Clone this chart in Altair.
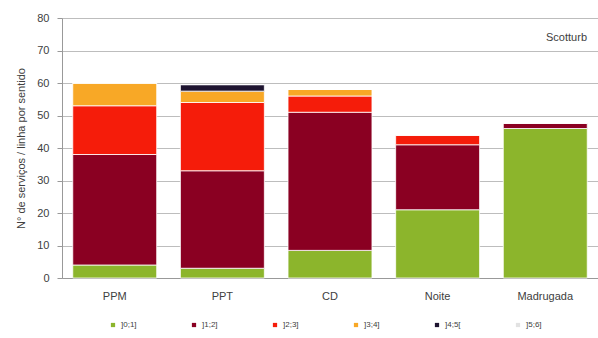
import altair as alt
import pandas as pd

categories = ["PPM", "PPT", "CD", "Noite", "Madrugada"]
series = ["]0;1]", "]1;2]", "]2;3]", "]3;4]", "]4;5[", "]5;6]"]
colors = ["#8cb52c", "#8a0022", "#f51c0a", "#f8a826", "#1e1430", "#e2e2e2"]

v01 = [4, 3, 8.5, 21, 46]
v12 = [34, 30, 42.5, 20, 1.7]
v23 = [15, 21, 5, 3, 0]
v34 = [7, 3.5, 2, 0, 0]
v45 = [0, 2, 0, 0, 0]
v56 = [0, 0, 0, 0, 0]

rows = []
for si, (s, vals) in enumerate(zip(series, [v01, v12, v23, v34, v45, v56])):
    for c, v in zip(categories, vals):
        rows.append({"cat": c, "serie": s, "idx": si, "val": v})
df = pd.DataFrame(rows)

FONT = "Liberation Sans"
TXT = "#404040"

bars = alt.Chart(df).mark_bar(stroke="white", strokeWidth=0.8).encode(
    x=alt.X("cat:N", sort=categories, title=None,
            scale=alt.Scale(paddingInner=0.22, paddingOuter=0.1),
            axis=alt.Axis(labelAngle=0, labelFont=FONT, labelFontSize=11, labelColor=TXT,
                          ticks=False, domainColor="#999999", labelPadding=12)),
    y=alt.Y("val:Q", title="N° de serviços / linha por sentido",
            scale=alt.Scale(domain=[0, 80]),
            axis=alt.Axis(values=list(range(0, 81, 10)), labelFont=FONT, labelFontSize=11,
                          labelColor=TXT, titleFont=FONT, titleFontSize=11, titleColor=TXT,
                          titleFontWeight="normal", gridColor="#bdbdbd", domainColor="#999999",
                          tickColor="#999999", tickSize=5, labelPadding=8, titlePadding=10)),
    color=alt.Color("serie:N", sort=series,
                    scale=alt.Scale(domain=series, range=colors),
                    legend=alt.Legend(title=None, orient="none", direction="horizontal",
                                      columns=6, gridAlign="all", columnPadding=53,
                                      legendX=47, legendY=303, symbolType="square",
                                      symbolSize=18, labelFont=FONT, labelFontSize=8,
                                      labelColor=TXT, symbolStrokeWidth=0)),
    order=alt.Order("idx:Q", sort="ascending"),
)

label = alt.Chart(pd.DataFrame({"t": ["Scotturb"]})).mark_text(
    align="right", baseline="middle", font=FONT, fontSize=11, color=TXT
).encode(x=alt.value(525), y=alt.value(20), text="t:N")

chart = alt.layer(bars, label).properties(
    width=536, height=260, autosize="none",
    padding={"left": 62, "top": 18, "right": 0, "bottom": 60},
).configure_view(stroke=None).configure(background="white")

chart.save("out.html", embed_options={"renderer": "svg", "actions": False})
